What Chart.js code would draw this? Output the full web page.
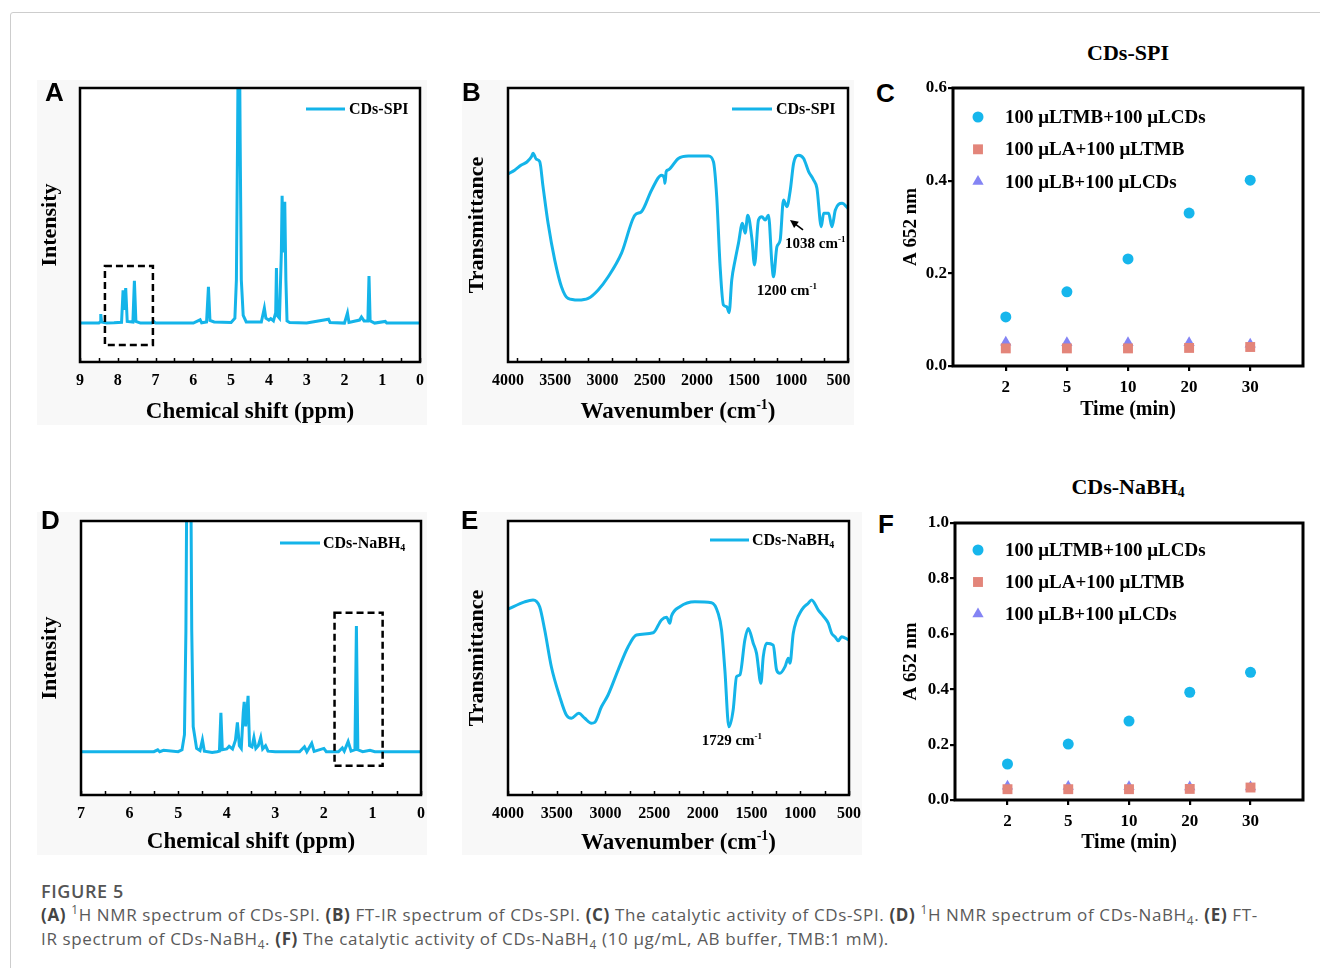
<!DOCTYPE html>
<html>
<head>
<meta charset="utf-8">
<title>Figure 5</title>
<script src="https://cdn.jsdelivr.net/npm/chart.js@4.4.1/dist/chart.umd.min.js"></script>
<style>
  html, body { margin: 0; padding: 0; background: #fff; }
  body { width: 1320px; height: 968px; position: relative; overflow: hidden; font-family: 'Liberation Serif', 'Times New Roman', serif; }
  .frame { position: absolute; left: 10px; top: 12px; width: 1340px; height: 1000px; border: 1px solid #cdcdcd; border-radius: 3px; }
  canvas { position: absolute; }
  .letter { position: absolute; font-family: 'Liberation Sans', Arial, sans-serif; font-weight: bold; font-size: 26px; line-height: 1; }
  .ptitle { position: absolute; font-weight: bold; font-size: 22px; line-height: 1; transform: translate(-50%, -50%); white-space: nowrap; }
  .ptitle sub { font-size: 0.62em; line-height: 0; vertical-align: -0.25em; }
  .caption { position: absolute; left: 41px; top: 879px; font-family: 'Open Sans', sans-serif; color: #5a5a5a; font-size: 17px; letter-spacing: 0.63px; line-height: 24px; white-space: nowrap; }
  .caption .fig { font-weight: 600; font-size: 18px; letter-spacing: 0.6px; color: #555; }
  .caption b { color: #444; }
  .caption sup, .caption sub { font-size: 0.7em; line-height: 0; }
</style>
</head>
<body>
<div class="frame"></div>

<canvas id="nmrSpi"></canvas>
<canvas id="irSpi"></canvas>
<canvas id="actSpi"></canvas>
<canvas id="nmrNabh"></canvas>
<canvas id="irNabh"></canvas>
<canvas id="actNabh"></canvas>

<div class="letter" style="left:45px;top:79px">A</div>
<div class="letter" style="left:462px;top:79px">B</div>
<div class="letter" style="left:876px;top:80px">C</div>
<div class="letter" style="left:41px;top:507px">D</div>
<div class="letter" style="left:461px;top:507px">E</div>
<div class="letter" style="left:878px;top:511px">F</div>

<div class="ptitle" style="left:1128px;top:53px">CDs-SPI</div>
<div class="ptitle" style="left:1128px;top:487px">CDs-NaBH<sub>4</sub></div>

<div class="caption">
  <div class="fig">FIGURE 5</div>
  <b>(A)</b> <sup>1</sup>H NMR spectrum of CDs-SPI. <b>(B)</b> FT-IR spectrum of CDs-SPI. <b>(C)</b> The catalytic activity of CDs-SPI. <b>(D)</b> <sup>1</sup>H NMR spectrum of CDs-NaBH<sub>4</sub>. <b>(E)</b> FT-<br>
  IR spectrum of CDs-NaBH<sub>4</sub>. <b>(F)</b> The catalytic activity of CDs-NaBH<sub>4</sub> (10 µg/mL, AB buffer, TMB:1 mM).
</div>

<script>
const SERIF = "'Liberation Serif', 'Times New Roman', serif";
const CYAN = '#14b4e9';

// A: 1H NMR of CDs-SPI (ppm, relative intensity 0-100)
const nmrSpiShift = [9.0, 8.5, 8.47, 8.45, 8.43, 8.3, 8.1, 7.9, 7.86, 7.83, 7.79, 7.75, 7.6, 7.56, 7.52, 7.4, 7.1, 7.05, 7.0,
  6.0, 5.82, 5.78, 5.65, 5.6, 5.56, 5.45, 5.0, 4.9, 4.86, 4.83, 4.81, 4.78, 4.76, 4.73, 4.68, 4.6, 4.2, 4.12, 4.08, 4.0,
  3.95, 3.88, 3.82, 3.8, 3.78, 3.72, 3.67, 3.65, 3.62, 3.58, 3.55, 3.52, 3.45, 3.0, 2.42, 2.38, 2.0, 1.92, 1.88, 1.6,
  1.55, 1.48, 1.38, 1.35, 1.32, 1.2, 0.92, 0.88, 0.0];
const nmrSpiInt = [14.2, 14.2, 14.6, 17.5, 14.6, 14.2, 14.3, 14.5, 26.2, 19.0, 27.0, 14.8, 14.6, 29.6, 14.8, 14.2, 14.2, 14.8, 14.2,
  14.2, 15.4, 14.3, 14.6, 27.4, 15.2, 14.6, 14.4, 16.0, 30.0, 80.0, 120.0, 120.0, 80.0, 30.0, 17.0, 14.6, 14.6, 19.7, 16.0, 15.3,
  15.8, 15.0, 18.0, 34.3, 17.0, 16.0, 40.0, 60.7, 40.0, 58.5, 30.0, 15.0, 14.4, 14.2, 15.6, 14.4, 14.2, 17.9, 14.4, 15.3,
  16.4, 15.0, 15.0, 31.4, 15.0, 14.2, 14.8, 14.2, 14.2];
const nmrSpiTicks = [9, 8, 7, 6, 5, 4, 3, 2, 1, 0];
const nmrSpiBox = [8.34, 7.07, 6.2, 35.0];

// D: 1H NMR of CDs-NaBH4
const nmrNabhShift = [7.0, 5.5, 5.42, 5.38, 5.3, 5.0, 4.92, 4.87, 4.84, 4.82, 4.74, 4.72, 4.69, 4.62, 4.55, 4.5, 4.46, 4.3,
  4.2, 4.15, 4.12, 4.09, 4.0, 3.95, 3.88, 3.82, 3.78, 3.74, 3.7, 3.66, 3.64, 3.61, 3.56, 3.53, 3.48, 3.44, 3.4, 3.35, 3.3,
  3.26, 3.2, 3.15, 3.0, 2.5, 2.4, 2.35, 2.25, 2.2, 2.0, 1.95, 1.7, 1.62, 1.58, 1.5, 1.44, 1.36, 1.33, 1.3, 1.2, 1.05, 0.95, 0.0];
const nmrNabhInt = [15.8, 15.8, 16.5, 15.8, 16.3, 15.8, 16.5, 22.0, 60.0, 120.0, 120.0, 60.0, 25.0, 17.0, 16.2, 20.1, 16.0, 15.5,
  15.8, 16.0, 30.0, 16.5, 16.8, 17.8, 16.8, 20.0, 26.5, 18.0, 17.0, 30.0, 34.0, 25.0, 36.2, 18.0, 17.5, 21.0, 17.0, 18.0, 21.0,
  16.8, 18.0, 16.0, 15.8, 15.8, 17.6, 15.8, 18.9, 15.9, 17.0, 15.8, 15.8, 17.2, 16.0, 19.5, 16.0, 16.5, 61.7, 16.5, 15.8, 16.3, 15.8, 15.8];
const nmrNabhTicks = [7, 6, 5, 4, 3, 2, 1, 0];
const nmrNabhBox = [1.78, 0.79, 10.7, 66.5];

// B: FT-IR of CDs-SPI (cm-1, relative transmittance 0-100)
const irSpiWave = [4000, 3930, 3859, 3800, 3752, 3735, 3700, 3664, 3629, 3576, 3505, 3434, 3364, 3257, 3151, 3045, 2939, 2798,
  2656, 2586, 2479, 2374, 2345, 2338, 2325, 2303, 2196, 2090, 1878, 1825, 1790, 1754, 1719, 1684, 1659, 1631, 1595, 1560,
  1518, 1489, 1461, 1418, 1390, 1348, 1312, 1277, 1242, 1206, 1189, 1153, 1118, 1083, 1047, 1011, 976, 923, 870, 817, 764,
  729, 683, 658, 605, 570, 534, 463, 400];
const irSpiTrans = [68.6, 70.0, 71.9, 73.0, 74.9, 76.2, 74.0, 73.1, 64.0, 50.7, 37.2, 27.5, 23.2, 22.6, 23.2, 26.3, 31.1, 39.7,
  53.6, 54.9, 62.8, 68.2, 67.0, 65.2, 69.5, 70.1, 74.3, 75.2, 75.2, 73.1, 60.3, 34.8, 20.8, 20.2, 18.0, 29.9, 37.2, 43.3,
  50.6, 47.0, 53.6, 45.1, 35.4, 51.8, 53.0, 51.8, 53.6, 36.0, 31.1, 42.0, 44.5, 59.1, 56.7, 62.8, 72.5, 75.5, 74.3, 69.5, 66.4,
  63.4, 49.4, 54.3, 54.3, 49.4, 55.5, 57.9, 56.1];
const irTicks = [4000, 3500, 3000, 2500, 2000, 1500, 1000, 500];
const irSpiNotes = [
  { text: '1038 cm^{-1}', x: 1067, y: 43.3 },
  { text: '1200 cm^{-1}', x: 1367, y: 26.3 }
];
const irSpiArrow = [876, 48.2, 1014, 51.8];

// E: FT-IR of CDs-NaBH4
const irNabhWave = [4000, 3829, 3743, 3675, 3623, 3555, 3469, 3401, 3349, 3274, 3212, 3144, 3110, 3041, 2973, 2870, 2767,
  2682, 2510, 2425, 2373, 2339, 2322, 2236, 2082, 1911, 1843, 1808, 1774, 1733, 1689, 1654, 1620, 1569, 1534, 1483, 1449,
  1404, 1380, 1346, 1278, 1243, 1209, 1157, 1123, 1106, 1072, 986, 918, 884, 815, 764, 713, 678, 644, 610, 576, 507];
const irNabhTrans = [67.8, 70.5, 71.2, 68.7, 60.2, 46.8, 35.9, 29.2, 28.0, 29.8, 28.0, 26.2, 26.5, 32.2, 36.5, 45.6, 54.1,
  58.4, 59.2, 63.9, 64.9, 62.7, 65.3, 68.7, 70.5, 70.2, 66.3, 60.2, 45.6, 24.9, 31.0, 43.2, 43.8, 56.6, 60.8, 55.4, 51.7,
  40.8, 50.5, 55.4, 54.7, 45.6, 44.4, 46.8, 49.9, 48.1, 59.0, 67.5, 70.0, 71.2, 67.5, 65.3, 62.7, 59.0, 57.8, 56.3, 57.8, 56.6];
const irNabhNotes = [{ text: '1729 cm^{-1}', x: 2012, y: 20.0 }];

// C / F: catalytic activity, A652 vs time
const timeLabels = ['2', '5', '10', '20', '30'];
const spiTmbCds = [0.106, 0.160, 0.231, 0.330, 0.401];
const spiATmb = [0.038, 0.038, 0.038, 0.039, 0.041];
const spiBCds = [0.051, 0.050, 0.050, 0.050, 0.047];
const nabhTmbCds = [0.130, 0.202, 0.285, 0.389, 0.461];
const nabhATmb = [0.039, 0.039, 0.039, 0.040, 0.045];
const nabhBCds = [0.050, 0.049, 0.048, 0.047, 0.047];
const seriesNames = ['100 μLTMB+100 μLCDs', '100 μLA+100 μLTMB', '100 μLB+100 μLCDs'];
const seriesColors = ['#16b6ec', '#e3857a', '#8484f4'];
const seriesShapes = ['circle', 'rect', 'triangle'];

// --- drawing helpers ---
function richParts(str) {
  const parts = [];
  const re = /([\^_])\{([^}]*)\}/g;
  let last = 0, m;
  while ((m = re.exec(str))) {
    if (m.index > last) parts.push({ t: str.slice(last, m.index), k: '' });
    parts.push({ t: m[2], k: m[1] });
    last = re.lastIndex;
  }
  if (last < str.length) parts.push({ t: str.slice(last), k: '' });
  return parts;
}

function drawRich(ctx, str, x, y, size, align) {
  const parts = richParts(str);
  const small = Math.round(size * 0.62);
  const fontOf = p => `bold ${p.k ? small : size}px ${SERIF}`;
  let w = 0;
  parts.forEach(p => { ctx.font = fontOf(p); p.w = ctx.measureText(p.t).width; w += p.w; });
  let cx = align === 'center' ? x - w / 2 : x;
  const base = y + size * 0.34;
  ctx.fillStyle = '#000';
  ctx.textAlign = 'left';
  ctx.textBaseline = 'alphabetic';
  parts.forEach(p => {
    ctx.font = fontOf(p);
    const dy = p.k === '^' ? -size * 0.4 : (p.k === '_' ? size * 0.18 : 0);
    ctx.fillText(p.t, cx, base + dy);
    cx += p.w;
  });
}

function drawMarker(ctx, shape, x, y, r, color) {
  ctx.fillStyle = color;
  ctx.beginPath();
  if (shape === 'circle') {
    ctx.arc(x, y, r, 0, Math.PI * 2);
  } else if (shape === 'rect') {
    const s = r * Math.SQRT1_2;
    ctx.rect(x - s, y - s, 2 * s, 2 * s);
  } else {
    for (let i = 0; i < 3; i++) {
      const a = i * 2 * Math.PI / 3;
      const px = x + Math.sin(a) * r, py = y - Math.cos(a) * r;
      i ? ctx.lineTo(px, py) : ctx.moveTo(px, py);
    }
    ctx.closePath();
  }
  ctx.fill();
}

// keep label overflow from shrinking the plot area
function noPad(sc) {
  sc.paddingLeft = 0;
  sc.paddingRight = 0;
  sc.paddingTop = 0;
  sc.paddingBottom = 0;
}

const decor = {
  id: 'decor',
  beforeDraw(chart, args, o) {
    const { ctx, chartArea: a } = chart;
    ctx.save();
    if (o.bg) {
      ctx.fillStyle = o.bg;
      ctx.fillRect(0, 0, chart.width, chart.height);
    }
    ctx.fillStyle = '#fff';
    ctx.fillRect(a.left, a.top, a.right - a.left, a.bottom - a.top);
    ctx.restore();
  },
  afterDatasetsDraw(chart, args, o) {
    const { ctx, scales: { x, y } } = chart;
    ctx.save();
    if (o.box) {
      const [x0, x1, y0, y1] = o.box;
      ctx.strokeStyle = '#000';
      ctx.lineWidth = 2.5;
      ctx.setLineDash([7, 4]);
      const px0 = x.getPixelForValue(x0), px1 = x.getPixelForValue(x1);
      const py0 = y.getPixelForValue(y0), py1 = y.getPixelForValue(y1);
      ctx.strokeRect(px0, py1, px1 - px0, py0 - py1);
      ctx.setLineDash([]);
    }
    if (o.arrow) {
      const [tx, ty, hx, hy] = o.arrow;
      const x0 = x.getPixelForValue(tx), y0 = y.getPixelForValue(ty);
      const x1 = x.getPixelForValue(hx), y1 = y.getPixelForValue(hy);
      const ang = Math.atan2(y1 - y0, x1 - x0);
      ctx.strokeStyle = '#000';
      ctx.lineWidth = 1.6;
      ctx.beginPath();
      ctx.moveTo(x0, y0);
      ctx.lineTo(x1 - Math.cos(ang) * 5, y1 - Math.sin(ang) * 5);
      ctx.stroke();
      ctx.fillStyle = '#000';
      ctx.beginPath();
      ctx.moveTo(x1, y1);
      ctx.lineTo(x1 - Math.cos(ang - 0.45) * 9, y1 - Math.sin(ang - 0.45) * 9);
      ctx.lineTo(x1 - Math.cos(ang + 0.45) * 9, y1 - Math.sin(ang + 0.45) * 9);
      ctx.closePath();
      ctx.fill();
    }
    (o.notes || []).forEach(n => {
      drawRich(ctx, n.text, x.getPixelForValue(n.x), y.getPixelForValue(n.y), 15, 'left');
    });
    ctx.restore();
  },
  afterDraw(chart, args, o) {
    const { ctx, chartArea: a, scales: { x } } = chart;
    const [ox, oy] = o.origin;
    ctx.save();
    // inward minor ticks on the bottom axis
    if (o.minorStep) {
      ctx.strokeStyle = '#000';
      ctx.lineWidth = 1.5;
      ctx.beginPath();
      for (let v = x.min; v <= x.max + 1e-9; v += o.minorStep) {
        const px = Math.round(x.getPixelForValue(v)) + 0.5;
        ctx.moveTo(px, a.bottom);
        ctx.lineTo(px, a.bottom - 4);
      }
      ctx.stroke();
    }
    ctx.strokeStyle = '#000';
    ctx.lineWidth = o.frameWidth || 2.5;
    ctx.strokeRect(a.left, a.top, a.right - a.left, a.bottom - a.top);
    if (o.lineLegend) {
      const L = o.lineLegend;
      ctx.strokeStyle = CYAN;
      ctx.lineWidth = 3;
      ctx.beginPath();
      ctx.moveTo(L.x0 - ox, L.y - oy);
      ctx.lineTo(L.x1 - ox, L.y - oy);
      ctx.stroke();
      drawRich(ctx, L.text, L.tx - ox, L.y - oy, 16, 'left');
    }
    if (o.markerLegend) {
      const M = o.markerLegend;
      seriesNames.forEach((name, i) => {
        const cy = M.y0 + i * M.dy - oy;
        drawMarker(ctx, seriesShapes[i], M.mx - ox, cy, [5.5, 7, 6.5][i], seriesColors[i]);
        ctx.font = `bold 19px ${SERIF}`;
        ctx.fillStyle = '#000';
        ctx.textAlign = 'left';
        ctx.textBaseline = 'middle';
        ctx.fillText(name, M.tx - ox, cy + 1);
      });
    }
    if (o.xTitle) {
      drawRich(ctx, o.xTitle.text, (a.left + a.right) / 2, o.xTitle.y - oy, 23, 'center');
    }
    ctx.restore();
  }
};

function place(canvas, box) {
  canvas.width = box.width;
  canvas.height = box.height;
  canvas.style.left = box.left + 'px';
  canvas.style.top = box.top + 'px';
}

function spectrumChart(id, box, plot, s) {
  const canvas = document.getElementById(id);
  place(canvas, box);
  const pts = s.xs.map((v, i) => ({ x: v, y: s.ys[i] }));
  return new Chart(canvas, {
    type: 'line',
    data: {
      datasets: [{
        label: s.label,
        data: pts,
        borderColor: CYAN,
        borderWidth: 3,
        pointRadius: 0,
        cubicInterpolationMode: s.smooth ? 'monotone' : 'default',
        tension: 0,
        fill: false,
        clip: 0
      }]
    },
    options: {
      responsive: false,
      animation: false,
      events: [],
      layout: { padding: { top: plot.top - box.top, right: box.left + box.width - plot.right, left: 0, bottom: 0 } },
      plugins: {
        legend: { display: false },
        tooltip: { enabled: false },
        decor: {
          origin: [box.left, box.top],
          bg: '#f8f8f8',
          box: s.box,
          notes: s.notes,
          arrow: s.arrow,
          minorStep: s.minorStep,
          lineLegend: s.legend,
          xTitle: s.xTitleRich
        }
      },
      scales: {
        x: {
          type: 'linear',
          reverse: true,
          min: s.xMin,
          max: s.xMax,
          afterBuildTicks: sc => { sc.ticks = s.ticks.map(v => ({ value: v })); },
          afterFit: sc => { sc.height = box.top + box.height - plot.bottom; noPad(sc); },
          grid: { display: false, drawTicks: false },
          border: { display: false },
          ticks: {
            autoSkip: false,
            maxRotation: 0,
            padding: 11,
            color: '#000',
            font: { family: SERIF, weight: 'bold', size: 16, lineHeight: 1 },
            callback: v => String(v)
          },
          title: {
            display: !!s.xTitle,
            text: s.xTitle || '',
            color: '#000',
            padding: 0,
            font: { family: SERIF, weight: 'bold', size: 23, lineHeight: 1.1 }
          }
        },
        y: {
          min: 0,
          max: 100,
          afterFit: sc => { sc.width = plot.left - box.left; noPad(sc); },
          grid: { display: false },
          border: { display: false },
          ticks: { display: false },
          title: {
            display: true,
            text: s.yTitle,
            color: '#000',
            padding: { top: s.yTitlePad || 0, bottom: 0 },
            font: { family: SERIF, weight: 'bold', size: 22 }
          }
        }
      }
    },
    plugins: [decor]
  });
}

function activityChart(id, box, plot, s) {
  const canvas = document.getElementById(id);
  place(canvas, box);
  const sets = [s.a, s.b, s.c].map((vals, i) => ({
    label: seriesNames[i],
    data: vals.map((v, j) => ({ x: j, y: v })),
    pointStyle: seriesShapes[i],
    pointRadius: [5.5, 7, 6.5][i],
    backgroundColor: seriesColors[i],
    borderWidth: 0,
    showLine: false,
    clip: false
  }));
  const tickGrid = { display: true, drawOnChartArea: false, drawTicks: true, tickLength: 5, color: '#000', lineWidth: 2.2 };
  return new Chart(canvas, {
    type: 'scatter',
    data: { datasets: sets },
    options: {
      responsive: false,
      animation: false,
      events: [],
      layout: { padding: { top: plot.top - box.top, right: box.left + box.width - plot.right, left: 0, bottom: 0 } },
      plugins: {
        legend: { display: false },
        tooltip: { enabled: false },
        decor: {
          origin: [box.left, box.top],
          frameWidth: 3,
          markerLegend: s.legend
        }
      },
      scales: {
        x: {
          type: 'linear',
          min: -0.864,
          max: 4.864,
          afterBuildTicks: sc => { sc.ticks = timeLabels.map((t, i) => ({ value: i })); },
          afterFit: sc => { sc.height = box.top + box.height - plot.bottom; noPad(sc); },
          grid: tickGrid,
          border: { display: false },
          ticks: {
            autoSkip: false,
            maxRotation: 0,
            padding: 8,
            color: '#000',
            font: { family: SERIF, weight: 'bold', size: 17, lineHeight: 1 },
            callback: (v, i) => timeLabels[i]
          },
          title: {
            display: true,
            text: 'Time (min)',
            color: '#000',
            padding: 0,
            font: { family: SERIF, weight: 'bold', size: 20 }
          }
        },
        y: {
          min: 0,
          max: s.yMax,
          afterFit: sc => { sc.width = plot.left - box.left; noPad(sc); },
          grid: tickGrid,
          border: { display: false },
          ticks: {
            stepSize: 0.2,
            padding: 1,
            color: '#000',
            font: { family: SERIF, weight: 'bold', size: 17, lineHeight: 1 },
            callback: v => v.toFixed(1)
          },
          title: {
            display: true,
            text: 'A 652 nm',
            color: '#000',
            padding: { top: 5, bottom: 0 },
            font: { family: SERIF, weight: 'bold', size: 19 }
          }
        }
      }
    },
    plugins: [decor]
  });
}

spectrumChart('nmrSpi', { left: 37, top: 80, width: 390, height: 345 }, { left: 80, top: 88, right: 420, bottom: 362 }, {
  label: 'CDs-SPI', xs: nmrSpiShift, ys: nmrSpiInt, xMin: 0, xMax: 9, ticks: nmrSpiTicks, minorStep: 0.5,
  box: nmrSpiBox, xTitle: 'Chemical shift (ppm)', yTitle: 'Intensity',
  legend: { x0: 306, x1: 345, tx: 349, y: 109, text: 'CDs-SPI' }
});

spectrumChart('irSpi', { left: 462, top: 80, width: 392, height: 345 }, { left: 508, top: 88, right: 848, bottom: 362 }, {
  label: 'CDs-SPI', xs: irSpiWave, ys: irSpiTrans, xMin: 400, xMax: 4000, ticks: irTicks, minorStep: 250, smooth: true,
  notes: irSpiNotes, arrow: irSpiArrow, yTitle: 'Transmittance', yTitlePad: 2,
  xTitleRich: { text: 'Wavenumber (cm^{-1})', y: 410 },
  legend: { x0: 732, x1: 772, tx: 776, y: 109, text: 'CDs-SPI' }
});

spectrumChart('nmrNabh', { left: 37, top: 512, width: 390, height: 343 }, { left: 81, top: 521, right: 421, bottom: 795 }, {
  label: 'CDs-NaBH4', xs: nmrNabhShift, ys: nmrNabhInt, xMin: 0, xMax: 7, ticks: nmrNabhTicks, minorStep: 0.5,
  box: nmrNabhBox, xTitle: 'Chemical shift (ppm)', yTitle: 'Intensity',
  legend: { x0: 280, x1: 320, tx: 323, y: 543, text: 'CDs-NaBH_{4}' }
});

spectrumChart('irNabh', { left: 462, top: 512, width: 400, height: 343 }, { left: 508, top: 521, right: 849, bottom: 795 }, {
  label: 'CDs-NaBH4', xs: irNabhWave, ys: irNabhTrans, xMin: 500, xMax: 4000, ticks: irTicks, minorStep: 250, smooth: true,
  notes: irNabhNotes, yTitle: 'Transmittance', yTitlePad: 2,
  xTitleRich: { text: 'Wavenumber (cm^{-1})', y: 841 },
  legend: { x0: 710, x1: 749, tx: 752, y: 540, text: 'CDs-NaBH_{4}' }
});

activityChart('actSpi', { left: 895, top: 80, width: 415, height: 342 }, { left: 953, top: 88, right: 1303, bottom: 366 }, {
  a: spiTmbCds, b: spiATmb, c: spiBCds, yMax: 0.6,
  legend: { mx: 978, tx: 1005, y0: 117, dy: 32.3 }
});

activityChart('actNabh', { left: 895, top: 515, width: 415, height: 340 }, { left: 955, top: 523, right: 1303, bottom: 800 }, {
  a: nabhTmbCds, b: nabhATmb, c: nabhBCds, yMax: 1.0,
  legend: { mx: 978, tx: 1005, y0: 550, dy: 32 }
});
</script>
</body>
</html>
